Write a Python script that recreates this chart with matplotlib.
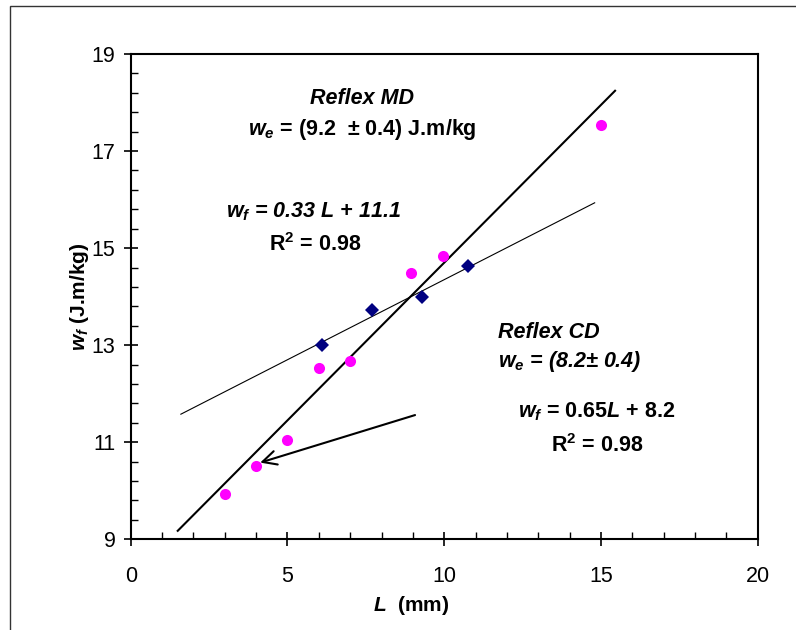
import matplotlib
matplotlib.use("Agg")
import numpy as np
from matplotlib import pyplot as plt
from matplotlib.patches import Rectangle

plt.rcParams['font.family'] = ['Liberation Sans', 'DejaVu Sans']
plt.rcParams['mathtext.fontset'] = 'custom'
plt.rcParams['mathtext.rm'] = 'Liberation Sans:bold'
plt.rcParams['mathtext.bf'] = 'Liberation Sans:bold'
plt.rcParams['mathtext.it'] = 'Liberation Sans:italic:bold'

# CD samples (magenta circles)
cd_L = [3, 4, 5, 6, 7, 8.95, 9.95, 15]
cd_wf = [9.94, 10.51, 11.04, 12.53, 12.67, 14.48, 14.84, 17.54]
# MD samples (navy diamonds)
md_L = [6.1, 7.7, 9.28, 10.76]
md_wf = [13.01, 13.72, 13.99, 14.63]

# linear fits: slope, intercept, drawn range
md_fit = (0.33, 11.05, 1.6, 14.8)
cd_fit = (0.65, 8.2, 1.5, 15.45)

x_major = [0, 5, 10, 15, 20]
y_major = [9, 11, 13, 15, 17, 19]

fig = plt.figure(figsize=(7.96, 6.30), dpi=100)
ax = fig.add_axes([130.7 / 796, 1 - 539.3 / 630, 627 / 796, 485.3 / 630])

# outer frame
fig.patches.append(Rectangle((10 / 796, -0.2), 2, 1.2 - 6 / 630,
                             transform=fig.transFigure, fill=False,
                             edgecolor='#333333', linewidth=1.0))

slope, icpt, x0, x1 = md_fit
xs = np.array([x0, x1])
ax.plot(xs, slope * xs + icpt, color='black', linewidth=0.8, zorder=2)
slope, icpt, x0, x1 = cd_fit
xs = np.array([x0, x1])
ax.plot(xs, slope * xs + icpt, color='black', linewidth=1.5, zorder=2)

ax.plot(cd_L, cd_wf, 'o', color='#FF00FF', markersize=8, markeredgewidth=0, zorder=3)
ax.plot(md_L, md_wf, 'D', color='#000080', markersize=7.5, markeredgewidth=0, zorder=3)

ax.annotate('', xy=(4.13, 10.58), xytext=(9.07, 11.56),
            arrowprops=dict(arrowstyle='->', color='black', linewidth=1.5,
                            mutation_scale=25, shrinkA=0, shrinkB=0))

ax.set_xlim(0, 20)
ax.set_ylim(9, 19)
ax.set_xticks(x_major)
ax.set_xticks(np.arange(0, 20.01, 1), minor=True)
ax.set_yticks(y_major)
ax.set_yticks(np.arange(9, 19.01, 0.4), minor=True)
ax.tick_params(which='major', direction='inout', length=10, width=1.2,
               labelsize=15.5)
ax.tick_params(axis='x', which='major', pad=14)
ax.tick_params(axis='y', which='major', pad=6)
ax.tick_params(which='minor', direction='in', length=5, width=1.0)
for s in ax.spines.values():
    s.set_linewidth(1.5)

ax.set_xlabel(r'$L$  (mm)', fontsize=15, fontweight='bold')
ax.xaxis.set_label_coords(0.447, -0.113)
ax.set_ylabel(r'$w_f$ (J.m/kg)', fontsize=15, fontweight='bold')
ax.yaxis.set_label_coords(-0.063, 0.5)

def put(px, py, s, **kw):
    ax.text(px / 796, 1 - py / 630, s, transform=fig.transFigure,
            fontsize=15.5, fontweight='bold', va='center', **kw)

put(362, 98, 'Reflex MD', ha='center', style='italic')
put(362, 130, r'$w_e$ = (9.2  ± 0.4) J.m/kg', ha='center')
put(313, 212, r'$w_f$ = 0.33 L + 11.1', ha='center', style='italic')
put(315, 245, r'R$^2$ = 0.98', ha='center')
put(498, 332, 'Reflex CD', ha='left', style='italic')
put(498, 362, r'$w_e$ = (8.2± 0.4)', ha='left', style='italic')
put(597, 412, r'$w_f$ = 0.65$L$ + 8.2', ha='center')
put(597, 446, r'R$^2$ = 0.98', ha='center')

fig.savefig('out.png', dpi=100)
